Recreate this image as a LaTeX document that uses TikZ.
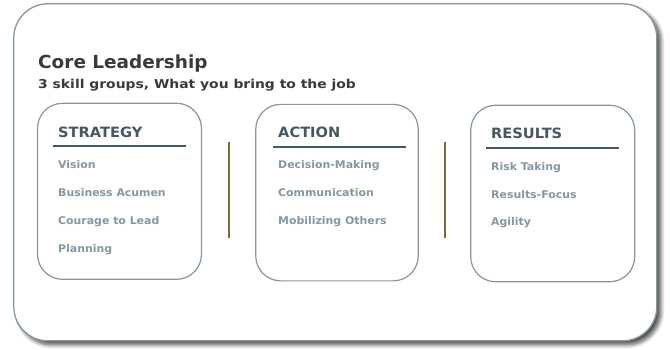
\documentclass[tikz,border=0pt]{standalone}
\usepackage{fontspec}
\setmainfont{DejaVu Sans}
\newfontfamily\titlefont{DejaVu Sans Bold}[FakeStretch=1.025]
\newfontfamily\subfont{DejaVu Sans Bold}[FakeStretch=1.14]
\newfontfamily\headfont{DejaVu Sans Bold}[FakeStretch=1.03]
\newfontfamily\itemfont{DejaVu Sans Bold}[FakeStretch=1.03]
\usetikzlibrary{shadows.blur}
\definecolor{frame}{HTML}{8398A0}
\definecolor{titlec}{HTML}{3A3A3A}
\definecolor{headc}{HTML}{445A60}
\definecolor{itemc}{HTML}{8599A0}
\definecolor{sepc}{HTML}{7F6A28}
\tikzset{
  x=1pt, y=-1pt,
  outerbox/.style={draw=frame, line width=1.3pt, fill=white, rounded corners=34pt, inner sep=0pt,
     blur shadow={shadow xshift=4pt, shadow yshift=-4pt, shadow blur steps=8, shadow blur radius=4pt, shadow opacity=70}},
  groupbox/.style={draw=frame, line width=1.2pt, fill=white, rounded corners=25pt, inner sep=0pt},
  titletxt/.style={anchor=base west, inner sep=0pt, text=titlec, font=\titlefont\fontsize{18}{20}\selectfont},
  subtxt/.style={anchor=base west, inner sep=0pt, text=titlec, font=\subfont\fontsize{12.2}{14}\selectfont},
  headtxt/.style={anchor=base west, inner sep=0pt, text=headc, font=\headfont\fontsize{14.2}{16}\selectfont},
  itemtxt/.style={anchor=base west, inner sep=0pt, text=itemc, font=\itemfont\fontsize{10.6}{12}\selectfont},
  rule/.style={draw=headc, line width=2pt},
  sep/.style={draw=sepc, line width=2pt},
}
\begin{document}
\begin{tikzpicture}
\useasboundingbox (0,0) rectangle (670,349);
\node[outerbox, minimum width=643pt, minimum height=337pt] (outer) at (335.3,172.3) {};

\node[titletxt] (title) at (38,68) {Core Leadership};
\node[subtxt] (sub) at (38,88.5) {3 skill groups, What you bring to the job};

% boxes
\node[groupbox, minimum width=164pt, minimum height=176pt] (sbox) at (119.5,191.3) {};
\node[groupbox, minimum width=162.5pt, minimum height=176.5pt] (abox) at (337,192.6) {};
\node[groupbox, minimum width=164pt, minimum height=176.5pt] (rbox) at (552.7,193.5) {};

% headers
\node[headtxt] (sh) at (58,137) {STRATEGY};
\node[headtxt] (ah) at (278,137) {ACTION};
\node[headtxt] (rh) at (491,138) {RESULTS};

\coordinate (s1) at (52.7,145.7); \coordinate (s2) at (185.7,145.7);
\coordinate (a1) at (272.7,146.7); \coordinate (a2) at (405.7,146.7);
\coordinate (r1) at (486,147.7); \coordinate (r2) at (618.7,147.7);
\draw[rule] (s1) -- (s2);
\draw[rule] (a1) -- (a2);
\draw[rule] (r1) -- (r2);

% separators
\coordinate (v1a) at (228.7,141.7); \coordinate (v1b) at (228.7,238.3);
\coordinate (v2a) at (445,141.7); \coordinate (v2b) at (445,238.3);
\draw[sep] (v1a) -- (v1b);
\draw[sep] (v2a) -- (v2b);

% items
\node[itemtxt] (s_i1) at (58,168) {Vision};
\node[itemtxt] (s_i2) at (58,196) {Business Acumen};
\node[itemtxt] (s_i3) at (58,224) {Courage to Lead};
\node[itemtxt] (s_i4) at (58,252) {Planning};

\node[itemtxt] (a_i1) at (278,168.5) {Decision-Making};
\node[itemtxt] (a_i2) at (278,196.5) {Communication};
\node[itemtxt] (a_i3) at (278,224.5) {Mobilizing Others};

\node[itemtxt] (r_i1) at (491,170) {Risk Taking};
\node[itemtxt] (r_i2) at (491,198) {Results-Focus};
\node[itemtxt] (r_i3) at (491,225.5) {Agility};
\end{tikzpicture}
\end{document}
